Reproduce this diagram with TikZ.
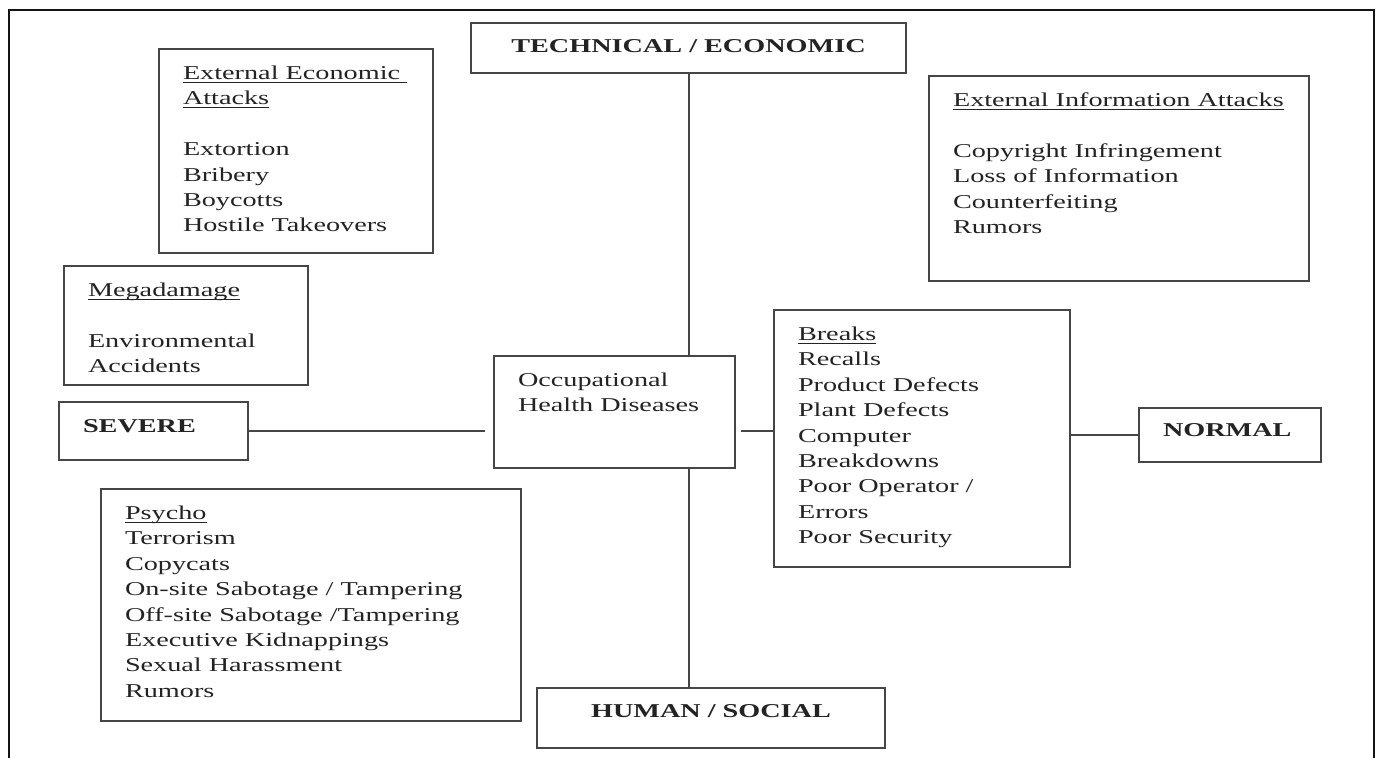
\documentclass[tikz,border=0pt]{standalone}
\usepackage{fontspec}
\setmainfont{Liberation Serif}[FakeStretch=1.44]
\usetikzlibrary{positioning}
\definecolor{frameBlack}{RGB}{20, 20, 20}
\definecolor{boxGray}{RGB}{70, 70, 70}
\definecolor{inkGray}{RGB}{35, 35, 35}
\newcommand{\boxfont}{\fontsize{9.8}{12.7}\selectfont}
\newcommand{\itemlist}[3]{\parbox[t][#2][t]{#1}{\raggedright #3}}
\newsavebox{\headbox}
\newcommand{\headline}[1]{\leavevmode\sbox{\headbox}{#1}\rlap{\rule[-1.6pt]{\wd\headbox}{0.6pt}}\usebox{\headbox}}

\begin{document}
\begin{tikzpicture}[
        x=0.5pt, y=-0.5pt,
        listNode/.style={draw=boxGray, line width=1pt, anchor=north west, inner xsep=12pt, inner ysep=8.5pt, text=inkGray, font=\boxfont},
        axisNode/.style={draw=boxGray, line width=1pt, anchor=north west, inner xsep=12pt, inner ysep=9pt, text height=6.5pt, text=inkGray, font=\boxfont\bfseries},
        axisLine/.style={draw=boxGray, line width=1pt}
    ]
        \useasboundingbox (0,0) rectangle (1376,758);
        \draw[frameBlack, line width=1.4pt] (9,758) -- (9,10) -- (1374,10) -- (1374,758);

        \node[axisNode, minimum width=217.5pt, inner ysep=7.5pt, text height=7.5pt, text depth=2.5pt] (tech) at (470,22) {TECHNICAL / ECONOMIC};
        \node[axisNode, text width=70.5pt, align=left, text depth=4.5pt] (severe) at (58,401) {SEVERE};
        \node[axisNode, minimum width=174pt, text height=5.5pt, text depth=6.5pt] (human) at (536,687) {HUMAN / SOCIAL};

        \node[listNode] (occ) at (493,355) {\itemlist{96.5pt}{39pt}{Occupational\\ Health Diseases}};
        \node[listNode] (breaks) at (773,309) {\itemlist{124pt}{111.5pt}{\headline{Breaks}\\ Recalls\\ Product Defects\\ Plant Defects\\ Computer\\ Breakdowns\\ Poor Operator /\\ Errors\\ Poor Security}};
        \node[axisNode, right=33.5pt of breaks, yshift=1.5pt, text width=67pt, align=left, text height=5pt, text depth=4pt] (normal) {NORMAL};

        \node[listNode] (extEcon) at (158,48) {\itemlist{113pt}{85pt}{\headline{External Economic\ }\\ \headline{Attacks}\\[12.7pt] Extortion\\ Bribery\\ Boycotts\\ Hostile Takeovers}};
        \node[listNode] (extInfo) at (928,75) {\itemlist{166pt}{85.5pt}{\headline{External Information Attacks}\\[12.7pt] Copyright Infringement\\ Loss of Information\\ Counterfeiting\\ Rumors}};
        \node[listNode] (mega) at (63,265) {\itemlist{98pt}{42.5pt}{\headline{Megadamage}\\[12.7pt] Environmental\\ Accidents}};
        \node[listNode] (psycho) at (100,488) {\itemlist{186pt}{99pt}{\headline{Psycho}\\ Terrorism\\ Copycats\\ On-site Sabotage / Tampering\\ Off-site Sabotage /Tampering\\ Executive Kidnappings\\ Sexual Harassment\\ Rumors}};

        \draw[axisLine] (tech.south) -- (tech.south |- occ.north);
        \draw[axisLine] (tech.south |- occ.south) -- (tech.south |- human.north);
        \draw[axisLine, shorten >=4pt] (severe.east) -- (severe.east -| occ.west);
        \draw[axisLine, shorten <=2.5pt] (occ.east |- severe.east) -- (breaks.west |- severe.east);
        \draw[axisLine] (breaks.east |- normal.west) -- (normal.west);
    \end{tikzpicture}
\end{document}
